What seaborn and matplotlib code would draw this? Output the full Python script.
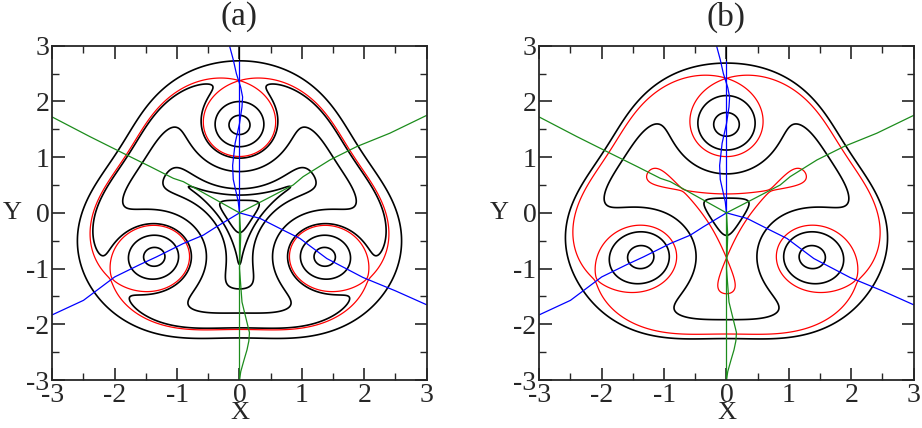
import numpy as np
import matplotlib
matplotlib.use("Agg")
import matplotlib.pyplot as plt
from matplotlib.ticker import MultipleLocator
import seaborn as sns

# --- field: three peaks inside a rounded triangular wall -----------------
peak_x = [0.0, -1.35, 1.35]
peak_y = [1.56, -0.78, -0.78]
width_a = 0.62          # peak width, panel (a)
width_b = 0.75          # peak width, panel (b)
wall_k = 0.67
wall_n = 6.4
wall_top = 0.86         # wall levels off here
wall_rho = [2.5, -0.25, -0.03]   # wall radius vs t = sin(3*theta)

# contour levels (black); the red ones are the saddle values
black_a = [0.011, 0.019, 0.037, 0.175, 0.42, 0.70, 0.95]
black_b = [0.062, 0.27, 0.72, 0.95]

# --- blue / green curves (same in both panels) ----------------------------
blue_left_x = [-3.0, -2.5, -2.0, -1.6, -1.33, -0.9, -0.58, -0.37, 0.0]
blue_left_y = [-1.83, -1.57, -1.15, -0.93, -0.79, -0.55, -0.40, -0.25, 0.0]
blue_right_x = [0.0, 0.33, 0.70, 0.97, 1.40, 1.98, 2.5, 3.0]
blue_right_y = [0.0, -0.10, -0.31, -0.46, -0.82, -1.16, -1.40, -1.65]
blue_wavy_x = [-0.16, -0.10, -0.05, 0.02, 0.05, 0.04, 0.0, -0.07, -0.11, -0.10, -0.06, -0.02, 0.0]
blue_wavy_y = [3.0, 2.75, 2.5, 2.25, 2.08, 1.9, 1.6, 1.25, 0.85, 0.6, 0.4, 0.2, 0.0]
blue_axis_x = [0.0, 0.0]
blue_axis_y = [0.0, 2.72]
black_axis_x = [0.0, 0.0]
black_axis_y = [2.72, 3.0]

green_left_x = [-3.0, -2.4, -1.81, -1.43, -1.06, -0.9, -0.45, 0.0]
green_left_y = [1.72, 1.37, 1.04, 0.83, 0.62, 0.56, 0.28, 0.0]
green_right_x = [0.0, 0.45, 0.86, 1.02, 1.45, 1.88, 2.41, 3.0]
green_right_y = [0.0, 0.26, 0.50, 0.65, 0.95, 1.19, 1.43, 1.75]
green_wavy_x = [0.0, 0.02, 0.01, 0.0, 0.04, 0.11, 0.16, 0.15, 0.12, 0.07, 0.02, 0.0]
green_wavy_y = [0.0, -0.4, -0.7, -1.0, -1.6, -1.92, -2.15, -2.3, -2.46, -2.65, -2.85, -3.0]
green_axis_x = [0.0, 0.0]
green_axis_y = [0.0, -3.0]

BLUE = "#0000ff"
GREEN = "#1c8c1c"
RED = "#ff0000"


def field(X, Y, s):
    R = np.hypot(X, Y) + 1e-12
    t = (3 * X**2 * Y - Y**3) / R**3
    rho = wall_rho[0] + wall_rho[1] * t + wall_rho[2] * t**2
    W = wall_k * (R / rho) ** wall_n
    F = W / (1 + (W / wall_top) ** 8) ** 0.125
    for px, py in zip(peak_x, peak_y):
        F = F + np.exp(-((X - px) ** 2 + (Y - py) ** 2) / s**2)
    return F


def saddle_levels(s, inner):
    r = np.linspace(1.9, 2.9, 4001)
    levels = [field(np.zeros_like(r), r, s).min()]
    if inner:
        r = np.linspace(0.4, 1.2, 4001)
        levels.insert(0, field(np.zeros_like(r), -r, s).max())
    return levels


sns.set_style("ticks")
plt.rcParams["font.family"] = ["Liberation Serif", "DejaVu Serif"]
plt.rcParams["axes.unicode_minus"] = False

g = np.linspace(-3, 3, 601)
X, Y = np.meshgrid(g, g)

fig = plt.figure(figsize=(9.22, 4.28), dpi=100)
ax_a = fig.add_axes([0.0567, 0.1121, 0.4061, 0.7811])
ax_b = fig.add_axes([0.5849, 0.1121, 0.4061, 0.7811])

panels = [
    (ax_a, width_a, black_a, False, "(a)"),
    (ax_b, width_b, black_b, True, "(b)"),
]

for ax, s, black, inner, title in panels:
    F = field(X, Y, s)
    ax.contour(X, Y, F, levels=black, colors="black", linewidths=1.2)
    ax.contour(X, Y, F, levels=saddle_levels(s, inner), colors=RED, linewidths=0.9)

    lines = [
        (black_axis_x, black_axis_y, "black"),
        (blue_axis_x, blue_axis_y, BLUE),
        (green_axis_x, green_axis_y, GREEN),
        (blue_left_x, blue_left_y, BLUE),
        (blue_right_x, blue_right_y, BLUE),
        (blue_wavy_x, blue_wavy_y, BLUE),
        (green_left_x, green_left_y, GREEN),
        (green_right_x, green_right_y, GREEN),
        (green_wavy_x, green_wavy_y, GREEN),
    ]
    for lx, ly, c in lines:
        sns.lineplot(x=lx, y=ly, sort=False, estimator=None, color=c,
                     linewidth=0.9, ax=ax)

    ax.set_xlim(-3, 3)
    ax.set_ylim(-3, 3)
    ax.xaxis.set_major_locator(MultipleLocator(1))
    ax.yaxis.set_major_locator(MultipleLocator(1))
    ax.xaxis.set_minor_locator(MultipleLocator(0.5))
    ax.yaxis.set_minor_locator(MultipleLocator(0.5))
    ax.tick_params(which="both", direction="in", top=True, right=True,
                   labelsize=20, pad=2)
    ax.tick_params(which="major", length=9, width=1.2)
    ax.tick_params(which="minor", length=5, width=1.0)
    for sp in ax.spines.values():
        sp.set_linewidth(1.3)

    ax.set_xlabel("X", fontsize=19, va="center")
    ax.set_ylabel("Y", fontsize=19, rotation=0, ha="center", va="center")
    ax.xaxis.set_label_coords(0.5, -0.1
                              )
    ax.yaxis.set_label_coords(-0.107, 0.5)
    ax.text(0.5, 1.086, title, transform=ax.transAxes, ha="center",
            va="center", fontsize=24)

fig.savefig("out.png", dpi=100)
